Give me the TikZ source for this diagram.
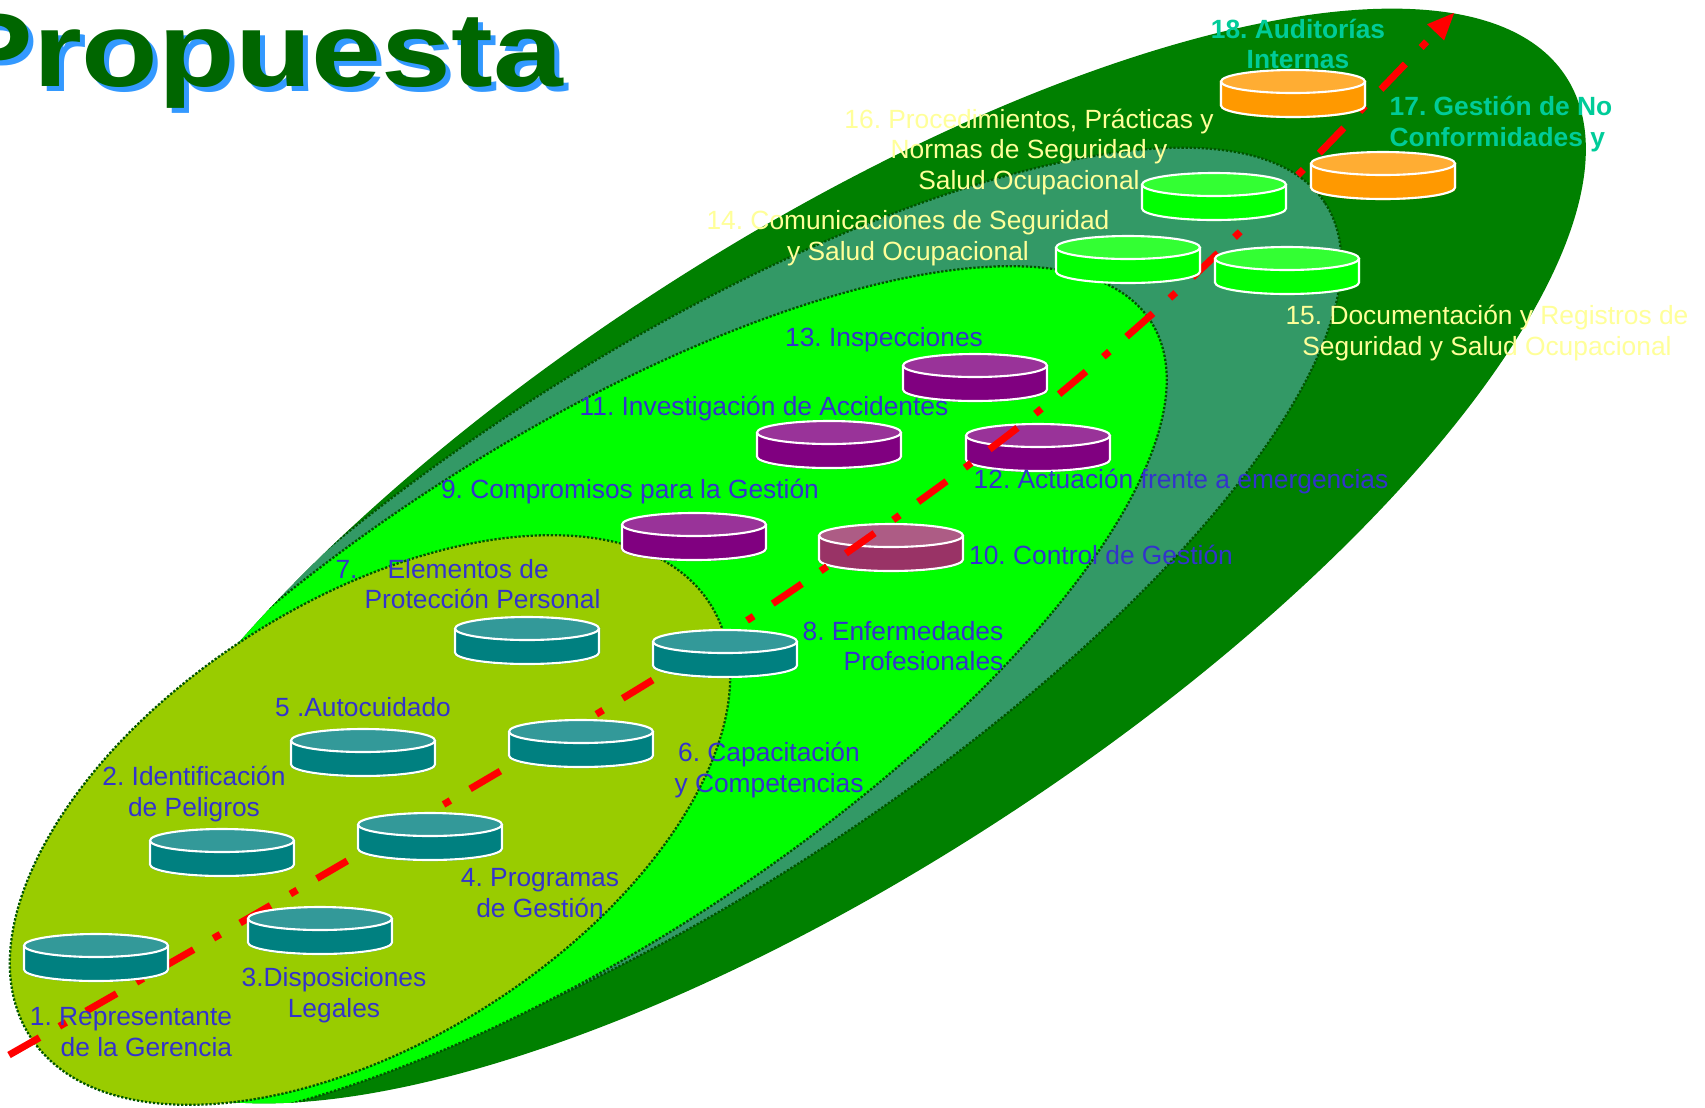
\documentclass[tikz,border=0pt]{standalone}
\usepackage{fontspec}
\setmainfont{Liberation Sans}
\usetikzlibrary{arrows.meta}
\frenchspacing

\definecolor{dkgreen}{HTML}{008000}
\definecolor{seagrn}{HTML}{339966}
\definecolor{limegrn}{HTML}{00FF00}
\definecolor{ygreen}{HTML}{99CC00}
\definecolor{zoneline}{HTML}{005500}
\definecolor{lblblue}{HTML}{3333CC}
\definecolor{paleyellow}{HTML}{FFFF99}
\definecolor{aqua}{HTML}{00CC99}
\definecolor{titlegreen}{HTML}{006600}
\definecolor{titleblue}{HTML}{3399FF}
\definecolor{tealtop}{HTML}{339999}
\definecolor{tealbody}{HTML}{008080}
\definecolor{purpletop}{HTML}{993399}
\definecolor{purplebody}{HTML}{800080}
\definecolor{rosetop}{HTML}{AD5C85}
\definecolor{rosebody}{HTML}{993366}
\definecolor{greentop}{HTML}{33FF33}
\definecolor{greenbody}{HTML}{00FF00}
\definecolor{orangetop}{HTML}{FFAD33}
\definecolor{orangebody}{HTML}{FF9900}

% disk: name, centre of the top face, top colour, body colour
\newcommand{\dbdisk}[4]{%
  \coordinate (#1) at (#2);
  \begin{scope}[shift={(#1)}, every path/.style={draw=white, line width=1.2pt}]
    \fill[#4] (-72,0) -- (-72,24) arc[start angle=180, end angle=0, x radius=72, y radius=11.5] -- (72,0) -- cycle;
    \draw (-72,0) -- (-72,24) arc[start angle=180, end angle=0, x radius=72, y radius=11.5] -- (72,0);
    \filldraw[fill=#3] (0,0) ellipse [x radius=72, y radius=11.5];
  \end{scope}}

\begin{document}
\begin{tikzpicture}[x=0.02cm, y=-0.02cm,
    every node/.style={font=\fontsize{15}{17.3}\selectfont},
    lbl/.style={text=lblblue, align=center, inner sep=0pt},
    ylbl/.style={text=paleyellow, align=center, inner sep=0pt},
    blbl/.style={text=aqua, font=\fontsize{15}{17.3}\selectfont\bfseries, align=left, inner sep=0pt},
    zone/.style={draw=zoneline, line width=1.3pt, densely dotted},
    title/.style={font=\fontsize{60}{70}\selectfont\bfseries, anchor=base west, inner sep=0pt}]
    \useasboundingbox (0,0) rectangle (1705,1107);
    \fill[white] (0,0) rectangle (1705,1107);

    % Zones
    \fill[dkgreen, rotate around={33:(828,556)}] (828,556) ellipse [x radius=880, y radius=315];
    \begin{scope}
        \clip[rotate around={33:(828,556)}] (828,556) ellipse [x radius=880, y radius=315];
        \filldraw[fill=seagrn, zone, rotate around={33:(671,628)}] (671,628) ellipse [x radius=780, y radius=267];
        \filldraw[fill=limegrn, zone, rotate around={33:(572,697)}] (572,697) ellipse [x radius=690, y radius=251];
    \end{scope}
    \filldraw[fill=ygreen, zone, rotate around={32.4:(370,820)}] (370,820) ellipse [x radius=403, y radius=220];

    % Title
    \node[title, text=titleblue] (shadow) at (-46,91) {\scalebox{1.19}[1]{Propuesta}};
    \node[title, text=titlegreen] (title) at (-51,86) {\scalebox{1.19}[1]{Propuesta}};

    % Disks under the path
    \dbdisk{d9}{694,524.5}{purpletop}{purplebody}
    \dbdisk{d10}{891,535.5}{rosetop}{rosebody}
    \dbdisk{d11}{829,432.5}{purpletop}{purplebody}
    \dbdisk{d12}{1038,435.5}{purpletop}{purplebody}
    \dbdisk{d13}{975,365.5}{purpletop}{purplebody}

    % Path of the system
    \draw[red, line width=4pt, dash pattern=on 20pt off 13pt on 4.5pt off 13pt,
        -{Triangle[length=16pt,width=12pt]}]
        plot[smooth] coordinates {(9,1055) (292,893) (600,712) (760,612) (900,515)
        (1030,418) (1160,307) (1290,183) (1455,12)};

    % Disks over the path
    \dbdisk{d1}{96,945.5}{tealtop}{tealbody}
    \dbdisk{d2}{222,840.5}{tealtop}{tealbody}
    \dbdisk{d3}{320,918.5}{tealtop}{tealbody}
    \dbdisk{d4}{430,824.5}{tealtop}{tealbody}
    \dbdisk{d5}{363,740.5}{tealtop}{tealbody}
    \dbdisk{d6}{581,731.5}{tealtop}{tealbody}
    \dbdisk{d7}{527,628.5}{tealtop}{tealbody}
    \dbdisk{d8}{725,641.5}{tealtop}{tealbody}
    \dbdisk{d14}{1128,247.5}{greentop}{greenbody}
    \dbdisk{d15}{1287,258.5}{greentop}{greenbody}
    \dbdisk{d16}{1214,184.5}{greentop}{greenbody}
    \dbdisk{d17}{1383,163.5}{orangetop}{orangebody}
    \dbdisk{d18}{1293,81.5}{orangetop}{orangebody}

    % Labels
    \node[lbl, align=right] (l1) at (131,1032) {1. Representante\\de la Gerencia};
    \node[lbl] (l2) at (194,794) {2. Identificación\\de Peligros};
    \node[lbl] (l3) at (334,995) {3.Disposiciones\\Legales};
    \node[lbl] (l4) at (540,893) {4. Programas\\de Gestión};
    \node[lbl] (l5) at (363,707) {5 .Autocuidado};
    \node[lbl] (l6) at (769,770) {6. Capacitación\\y Competencias};
    \node[lbl, align=left] (l7) at (468,584) {7.\hspace{1.14em}Elementos de\\\hspace*{1.1em}Protección Personal};
    \node[lbl, align=right] (l8) at (903,646) {8. Enfermedades\\Profesionales};
    \node[lbl] (l9) at (630,492) {9. Compromisos para la Gestión};
    \node[lbl] (l10) at (1101,555) {10. Control de Gestión};
    \node[lbl] (l11) at (764,409) {11. Investigación de Accidentes};
    \node[lbl] (l12) at (1181,482) {12. Actuación frente a emergencias};
    \node[lbl] (l13) at (884,340) {13. Inspecciones};
    \node[ylbl] (l14) at (908,238) {14. Comunicaciones de Seguridad\\y Salud Ocupacional};
    \node[ylbl] (l15) at (1487,333) {15. Documentación y Registros de\\Seguridad y Salud Ocupacional};
    \node[ylbl] (l16) at (1029,152) {16. Procedimientos, Prácticas y\\Normas de Seguridad y\\Salud Ocupacional};
    \node[blbl] (l17) at (1501,124) {17. Gestión de No\\Conformidades y};
    \node[blbl, align=center] (l18) at (1298,44) {18. Auditorías\\Internas};
\end{tikzpicture}
\end{document}
